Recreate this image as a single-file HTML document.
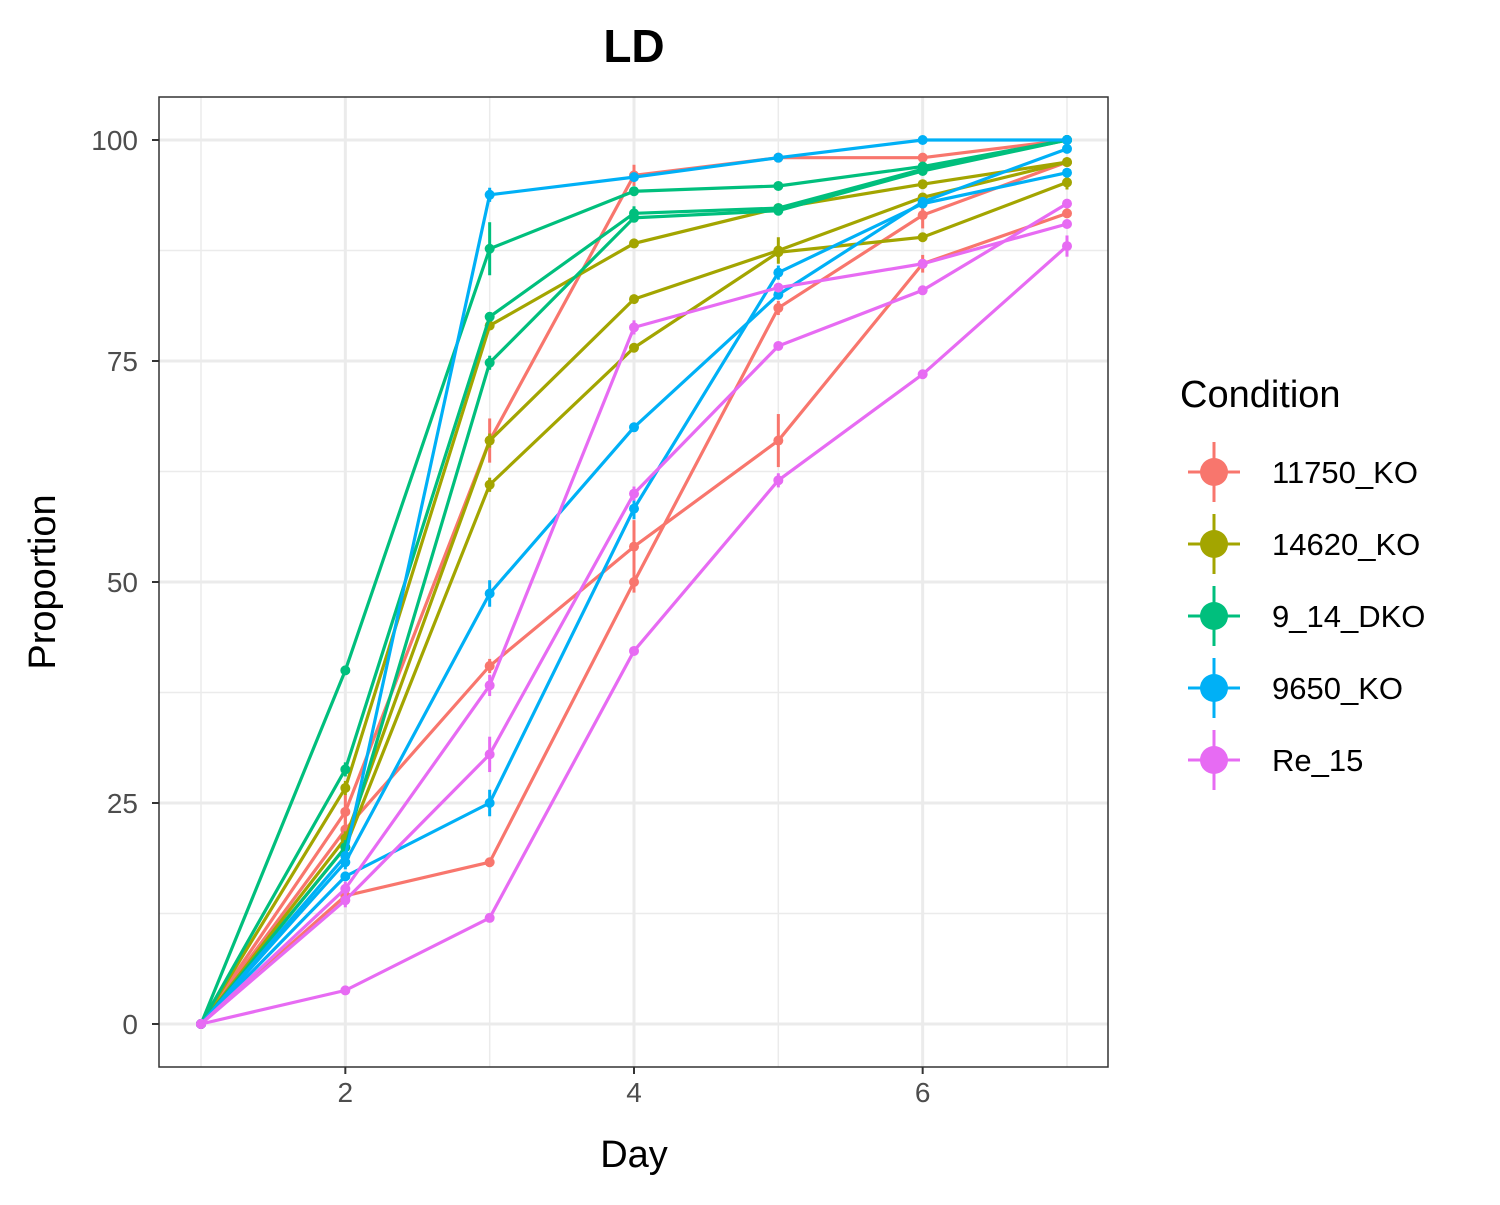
<!DOCTYPE html>
<html><head><meta charset="utf-8"><style>
body{margin:0;background:#fff;}
svg text{font-family:"Liberation Sans",Arial,sans-serif;}
</style></head><body>
<svg id="chart" width="1500" height="1200" xmlns="http://www.w3.org/2000/svg"></svg>
<script>
const days = [1,2,3,4,5,6,7];
const conditions = ["11750_KO","14620_KO","9_14_DKO","9650_KO","Re_15"];
const colors = ["#F8766D","#A3A500","#00BF7D","#00B0F6","#E76BF3"];
const xTicks = [2,4,6];
const yTicks = [0,25,50,75,100];
const ko11750_a = [0,24,66,96,98,98,100];
const ko11750_b = [0,14.5,18.3,50,81,91.5,97.5];
const ko11750_c = [0,22,40.5,54,66,86,91.7];
const ko14620_a = [0,26.7,79,88.3,92.3,95,97.5];
const ko14620_b = [0,21,66,82,87.5,93.5,97.5];
const ko14620_c = [0,20,61,76.5,87.3,89,95.2];
const dko_a = [0,40,87.7,94.2,94.8,97,100];
const dko_b = [0,28.8,80,91.7,92.3,96.7,100];
const dko_c = [0,20,74.8,91.2,92,96.5,100];
const ko9650_a = [0,19,93.8,95.8,98,100,100];
const ko9650_b = [0,18.3,48.7,67.5,82.5,93,99];
const ko9650_c = [0,16.7,25,58.3,85,92.8,96.3];
const re15_a = [0,15.3,38.3,78.8,83.3,86,90.5];
const re15_b = [0,14,30.5,60,76.7,83,92.8];
const re15_c = [0,3.8,12,42.2,61.5,73.5,88];
const err11750_a = [0,2,2.5,1.2,0.5,0.5,0.3];
const err11750_b = [0,0.5,0.5,1.2,0.8,1.5,0.5];
const err11750_c = [0,1.5,0.8,3,3,1,0.5];
const err14620_a = [0,0.8,0.5,0.5,0.5,0.5,0.3];
const err14620_b = [0,0.8,0.8,0.5,1.5,0.5,0.3];
const err14620_c = [0,0.5,0.8,0.5,0.5,0.5,0.8];
const errDko_a = [0,0.5,3,0.5,0.3,0.3,0.2];
const errDko_b = [0,0.8,0.5,0.8,0.5,0.5,0.2];
const errDko_c = [0,0.8,0.8,0.5,0.5,0.5,0.2];
const err9650_a = [0,0.5,0.8,0.3,0.3,0.3,0.2];
const err9650_b = [0,0.8,1.5,0.5,0.5,0.5,0.3];
const err9650_c = [0,0.5,1.5,1.2,0.8,0.5,0.3];
const errRe_a = [0,0.8,1.2,0.8,0.5,0.5,0.5];
const errRe_b = [0,0.8,2,0.8,0.5,0.5,0.5];
const errRe_c = [0,0.5,0.5,0.5,0.8,0.5,1.2];
const seriesGroups = [
 [ko11750_a,ko11750_b,ko11750_c],
 [ko14620_a,ko14620_b,ko14620_c],
 [dko_a,dko_b,dko_c],
 [ko9650_a,ko9650_b,ko9650_c],
 [re15_a,re15_b,re15_c]
];
const errGroups = [
 [err11750_a,err11750_b,err11750_c],
 [err14620_a,err14620_b,err14620_c],
 [errDko_a,errDko_b,errDko_c],
 [err9650_a,err9650_b,err9650_c],
 [errRe_a,errRe_b,errRe_c]
];
const NS="http://www.w3.org/2000/svg";
const svg=document.getElementById('chart');
const L=159,R=1108,T=97,B=1067;
const xs=d=>201+(d-1)*(1067-201)/6;
const ys=v=>1024-v*(1024-140)/100;
function mk(tag,attrs,parent){const e=document.createElementNS(NS,tag);for(const k in attrs)e.setAttribute(k,attrs[k]);(parent||svg).appendChild(e);return e;}
const panel=mk('rect',{x:L,y:T,width:R-L,height:B-T,fill:'#fff'});


[1,3,5,7].forEach(d=>{const l=mk('line',{x1:xs(d),x2:xs(d),y1:T,y2:B,stroke:'#ebebeb','stroke-width':1.5});

});
[12.5,37.5,62.5,87.5].forEach(v=>{const l=mk('line',{x1:L,x2:R,y1:ys(v),y2:ys(v),stroke:'#ebebeb','stroke-width':1.5});

});
xTicks.forEach(d=>{const l=mk('line',{x1:xs(d),x2:xs(d),y1:T,y2:B,stroke:'#ebebeb','stroke-width':3});


const tk=mk('line',{x1:xs(d),x2:xs(d),y1:B,y2:B+7,stroke:'#333','stroke-width':2});


const t=mk('text',{x:xs(d),y:B+35,'text-anchor':'middle','font-size':28,fill:'#4d4d4d'});t.textContent=d;

});
yTicks.forEach(v=>{const l=mk('line',{x1:L,x2:R,y1:ys(v),y2:ys(v),stroke:'#ebebeb','stroke-width':3});


const tk=mk('line',{x1:L-7,x2:L,y1:ys(v),y2:ys(v),stroke:'#333','stroke-width':2});


const t=mk('text',{x:L-21,y:ys(v)+10,'text-anchor':'end','font-size':28,fill:'#4d4d4d'});t.textContent=v;

});
seriesGroups.forEach((grp,gi)=>{grp.forEach((vals,li)=>{
 const g=mk('g',{});
 
 
 const p=mk('polyline',{points:vals.map((v,i)=>xs(days[i])+','+ys(v)).join(' '),fill:'none',stroke:colors[gi],'stroke-width':3.2},g);
 
 
 const err=errGroups[gi][li];
 vals.forEach((v,i)=>{
  const e=mk('line',{x1:xs(days[i]),x2:xs(days[i]),y1:ys(v+err[i]),y2:ys(v-err[i]),stroke:colors[gi],'stroke-width':3},g);
  
  
  const c=mk('circle',{cx:xs(days[i]),cy:ys(v),r:5,fill:colors[gi]},g);
  
  
 });
});});
const border=mk('rect',{x:L,y:T,width:R-L,height:B-T,fill:'none',stroke:'#333','stroke-width':1.5});


const tt=mk('text',{x:634,y:62,'text-anchor':'middle','font-size':46,'font-weight':'bold',fill:'#000'});tt.textContent='LD';


const xt=mk('text',{x:634,y:1167,'text-anchor':'middle','font-size':38,fill:'#000'});xt.textContent='Day';


const yt=mk('text',{x:55,y:582,'text-anchor':'middle','font-size':38,fill:'#000',transform:'rotate(-90 55 582)'});yt.textContent='Proportion';


const lt=mk('text',{x:1180,y:407,'font-size':38,fill:'#000'});lt.textContent='Condition';


conditions.forEach((c,i)=>{
 const y=472+i*72;
 const g=mk('g',{});
 
 
 mk('line',{x1:1188,x2:1240,y1:y,y2:y,stroke:colors[i],'stroke-width':3},g);
 mk('line',{x1:1214,x2:1214,y1:y-30,y2:y+30,stroke:colors[i],'stroke-width':3},g);
 mk('circle',{cx:1214,cy:y,r:14,fill:colors[i]},g);
 const t=mk('text',{x:1272,y:y+11,'font-size':31,fill:'#000'},g);t.textContent=c;
});
</script>
</body></html>
